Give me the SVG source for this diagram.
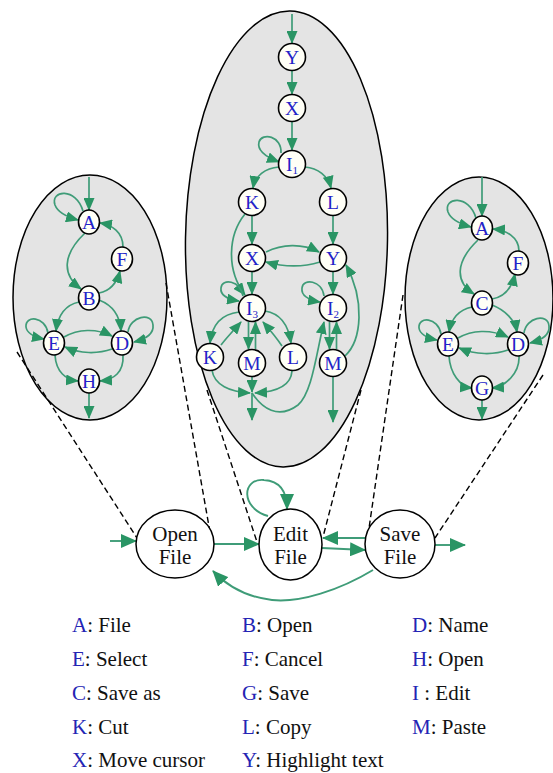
<svg xmlns="http://www.w3.org/2000/svg" width="553" height="773" viewBox="0 0 553 773">
  <style>
    .cluster { fill: #e4e4e4; stroke: #000; stroke-width: 1.5; }
    .node ellipse { fill: #fffff6; stroke: #000; stroke-width: 1.6; }
    .node text { font-family: "Liberation Serif", "Times New Roman", serif; font-size: 19.5px; fill: #2323c8; text-anchor: middle; }
    .big ellipse { fill: #fff; stroke: #000; stroke-width: 1.5; }
    .big text { font-family: "Liberation Serif", "Times New Roman", serif; font-size: 21px; fill: #111; text-anchor: middle; }
    .e { fill: none; stroke: #3f9c78; stroke-width: 1.7; marker-end: url(#ah); }
    .eb { fill: none; stroke: #3f9c78; stroke-width: 1.9; marker-end: url(#ahb); }
    .dash { fill: none; stroke: #000; stroke-width: 1.4; stroke-dasharray: 6 3.5; }
    .legend { font-family: "Liberation Serif", "Times New Roman", serif; font-size: 21px; fill: #111; }
    .legend tspan.k { fill: #2424b4; }
    .sub { font-size: 11px; }
  </style>
  <defs>
    <marker id="ah" viewBox="0 0 13 11" refX="12" refY="5.5" markerWidth="13" markerHeight="11" markerUnits="userSpaceOnUse" orient="auto">
      <path d="M0,0 L13,5.5 L0,11 z" fill="#2a9565"/>
    </marker>
    <marker id="ahb" viewBox="0 0 16 14" refX="15" refY="7" markerWidth="16" markerHeight="14" markerUnits="userSpaceOnUse" orient="auto">
      <path d="M0,0 L16,7 L0,14 z" fill="#2a9565"/>
    </marker>
  </defs>

  <!-- sub-state clusters -->
  <g id="cluster-open">
    <ellipse class="cluster" cx="90" cy="297.5" rx="77" ry="122.5"/>
  </g>
  <g id="cluster-edit">
    <ellipse class="cluster" cx="286.5" cy="239" rx="101" ry="228" transform="rotate(0.9 286.5 239)"/>
  </g>
  <g id="cluster-save">
    <ellipse class="cluster" cx="479" cy="298.5" rx="74" ry="121.5"/>
  </g>

  <!-- zoom guides -->
  <g id="guides">
    <path class="dash" d="M17 352 L137 538"/>
    <path class="dash" d="M166 283 L210 532"/>
    <path class="dash" d="M207 390 L257 542"/>
    <path class="dash" d="M361 390 L323 537"/>
    <path class="dash" d="M403 295 L367 542"/>
    <path class="dash" d="M543 375 L435 538"/>
  </g>

  <!-- connectors -->
  <g id="connectors">
    <!-- Open File cluster -->
    <path class="e" d="M89 177 L89 210"/>
    <path class="e" d="M83 211 C76 187 50 190 55 205 C58 213 67 217 78 220"/>
    <path class="e" d="M85 233 C62 255 62 275 81 289"/>
    <path class="e" d="M99 293 Q115 290 120 271"/>
    <path class="e" d="M123 247 C123 232 112 225 100 223"/>
    <path class="e" d="M79 302 C65 305 58 315 56 331"/>
    <path class="e" d="M99 300 C112 305 120 315 121 331"/>
    <path class="e" d="M48 333 C45 316 25 315 26 327 C27 334 34 337 44 339"/>
    <path class="e" d="M128 332 C130 316 152 312 153 325 C154 334 146 339 134 342"/>
    <path class="e" d="M64 337 C78 329 96 328 112 336"/>
    <path class="e" d="M112 349 C98 354 80 354 65 347"/>
    <path class="e" d="M55 355 C56 372 66 380 78 381"/>
    <path class="e" d="M123 355 C124 372 114 380 100 381"/>
    <path class="e" d="M89 393 L89 418"/>

    <!-- Edit File cluster -->
    <path class="e" d="M292 14 L292 43"/>
    <path class="e" d="M292 71 L292 94"/>
    <path class="e" d="M292 122 L292 150"/>
    <path class="e" d="M281 153 C282 136 262 132 259 142 C257 150 266 157 279 162"/>
    <path class="e" d="M279 167 C265 168 255 176 253 188"/>
    <path class="e" d="M305 167 C318 168 328 176 331 188"/>
    <path class="e" d="M252 216 L252 244"/>
    <path class="e" d="M333 216 L333 244"/>
    <path class="e" d="M266 252 C282 244 302 243 319 252"/>
    <path class="e" d="M320 262 C304 267 284 267 266 262"/>
    <path class="e" d="M245 214 C228 235 226 270 245 295"/>
    <path class="e" d="M252 272 L252 294"/>
    <path class="e" d="M243 296 C240 280 222 278 221 288 C220 295 227 299 239 301"/>
    <path class="e" d="M333 272 L333 294"/>
    <path class="e" d="M324 296 C322 280 303 278 302 288 C301 295 308 300 320 302"/>
    <path class="e" d="M239 312 C222 314 212 324 210 343"/>
    <path class="e" d="M221 345 C228 336 234 330 241 322"/>
    <path class="e" d="M248.5 322 L248.5 349"/>
    <path class="e" d="M255.5 349 L255.5 322"/>
    <path class="e" d="M265 311 C278 313 288 322 291 343"/>
    <path class="e" d="M282 346 C276 337 270 330 263 322"/>
    <path class="e" d="M212 370 C214 385 230 392 250 393"/>
    <path class="e" d="M252 377 L252 392"/>
    <path class="e" d="M292 371 C291 386 276 392 255 393"/>
    <path class="e" d="M252 393 L252 420"/>
    <path class="e" d="M252 393 C262 408 278 420 298 405 C312 393 316 355 324 322"/>
    <path class="e" d="M329.5 322 L329.5 349"/>
    <path class="e" d="M336.5 349 L336.5 322"/>
    <path class="e" d="M345 356 C362 340 365 300 346 265"/>
    <path class="e" d="M333 377 L333 422"/>

    <!-- Save File cluster -->
    <path class="e" d="M482 177 L482 216"/>
    <path class="e" d="M476 218 C469 194 443 197 448 212 C451 220 460 224 471 227"/>
    <path class="e" d="M478 240 C455 262 455 282 474 294"/>
    <path class="e" d="M492 299 Q510 296 515 274"/>
    <path class="e" d="M519 251 C519 237 506 230 493 229"/>
    <path class="e" d="M472 307 C458 310 451 320 449 332"/>
    <path class="e" d="M492 305 C505 310 515 320 517 332"/>
    <path class="e" d="M441 334 C438 317 418 316 419 328 C420 335 427 338 437 340"/>
    <path class="e" d="M524 333 C526 317 548 313 549 326 C550 335 542 340 530 343"/>
    <path class="e" d="M458 338 C472 330 490 329 508 337"/>
    <path class="e" d="M508 350 C494 355 476 355 459 348"/>
    <path class="e" d="M449 356 C450 373 460 387 472 388"/>
    <path class="e" d="M519 356 C520 373 505 387 492 388"/>
    <path class="e" d="M482 400 L482 419"/>

    <!-- top-level machine -->
    <path class="eb" d="M110 541 L136 541"/>
    <path class="eb" d="M214 544 L259 544"/>
    <path class="eb" d="M268 516 C240 508 242 478 264 480 C280 481 287 492 287 509"/>
    <path class="eb" d="M365 538 L323 538"/>
    <path class="eb" d="M322 548 L365 550"/>
    <path class="eb" d="M435 545 L465 545"/>
    <path class="eb" d="M373 570 C340 590 300 603 272 600 C247 597 227 586 213 571"/>
  </g>

  <!-- Open File cluster nodes -->
  <g id="o-A" class="node"><ellipse cx="89" cy="222" rx="10.5" ry="12"/><text x="89" y="228.5">A</text></g>
  <g id="o-F" class="node"><ellipse cx="122" cy="259" rx="10.5" ry="12"/><text x="122" y="265.5">F</text></g>
  <g id="o-B" class="node"><ellipse cx="89" cy="298" rx="10.5" ry="12"/><text x="89" y="304.5">B</text></g>
  <g id="o-E" class="node"><ellipse cx="54" cy="343" rx="10.5" ry="12"/><text x="54" y="349.5">E</text></g>
  <g id="o-D" class="node"><ellipse cx="122" cy="343" rx="10.5" ry="12"/><text x="122" y="349.5">D</text></g>
  <g id="o-H" class="node"><ellipse cx="89" cy="381" rx="10.5" ry="12"/><text x="89" y="387.5">H</text></g>

  <!-- Edit File cluster nodes -->
  <g id="e-Y1" class="node"><ellipse cx="292" cy="57" rx="13.5" ry="13.5"/><text x="292" y="64">Y</text></g>
  <g id="e-X1" class="node"><ellipse cx="292" cy="108" rx="13.5" ry="13.5"/><text x="292" y="115">X</text></g>
  <g id="e-I1" class="node"><ellipse cx="292" cy="164" rx="13.5" ry="13.5"/><text x="292" y="171">I<tspan class="sub" dy="3">1</tspan></text></g>
  <g id="e-K1" class="node"><ellipse cx="252" cy="202" rx="13.5" ry="13.5"/><text x="252" y="209">K</text></g>
  <g id="e-L1" class="node"><ellipse cx="333" cy="202" rx="13.5" ry="13.5"/><text x="333" y="209">L</text></g>
  <g id="e-X2" class="node"><ellipse cx="252" cy="258" rx="13.5" ry="13.5"/><text x="252" y="265">X</text></g>
  <g id="e-Y2" class="node"><ellipse cx="333" cy="258" rx="13.5" ry="13.5"/><text x="333" y="265">Y</text></g>
  <g id="e-I3" class="node"><ellipse cx="252" cy="308" rx="13.5" ry="13.5"/><text x="252" y="315">I<tspan class="sub" dy="3">3</tspan></text></g>
  <g id="e-I2" class="node"><ellipse cx="333" cy="308" rx="13.5" ry="13.5"/><text x="333" y="315">I<tspan class="sub" dy="3">2</tspan></text></g>
  <g id="e-K2" class="node"><ellipse cx="210" cy="357" rx="13.5" ry="13.5"/><text x="210" y="364">K</text></g>
  <g id="e-M1" class="node"><ellipse cx="252" cy="363" rx="13.5" ry="13.5"/><text x="252" y="370">M</text></g>
  <g id="e-L2" class="node"><ellipse cx="293" cy="357" rx="13.5" ry="13.5"/><text x="293" y="364">L</text></g>
  <g id="e-M2" class="node"><ellipse cx="333" cy="363" rx="13.5" ry="13.5"/><text x="333" y="370">M</text></g>

  <!-- Save File cluster nodes -->
  <g id="s-A" class="node"><ellipse cx="482" cy="228" rx="10.5" ry="12"/><text x="482" y="234.5">A</text></g>
  <g id="s-F" class="node"><ellipse cx="518" cy="263" rx="10.5" ry="12"/><text x="518" y="269.5">F</text></g>
  <g id="s-C" class="node"><ellipse cx="482" cy="303" rx="10.5" ry="12"/><text x="482" y="309.5">C</text></g>
  <g id="s-E" class="node"><ellipse cx="448" cy="344" rx="10.5" ry="12"/><text x="448" y="350.5">E</text></g>
  <g id="s-D" class="node"><ellipse cx="518" cy="344" rx="10.5" ry="12"/><text x="518" y="350.5">D</text></g>
  <g id="s-G" class="node"><ellipse cx="482" cy="388" rx="10.5" ry="12"/><text x="482" y="394.5">G</text></g>

  <!-- top-level states -->
  <g id="open-file" class="big"><ellipse cx="175" cy="544" rx="39" ry="34"/><text x="175" y="541">Open</text><text x="175" y="564">File</text></g>
  <g id="edit-file" class="big"><ellipse cx="290.5" cy="544.5" rx="31.5" ry="35.5"/><text x="290.5" y="541">Edit</text><text x="290.5" y="564">File</text></g>
  <g id="save-file" class="big"><ellipse cx="400" cy="544" rx="35" ry="34"/><text x="400" y="541">Save</text><text x="400" y="564">File</text></g>

  <!-- legend -->
  <g id="legend" class="legend">
    <text x="72" y="632"><tspan class="k">A</tspan>: File</text>
    <text x="242" y="632"><tspan class="k">B</tspan>: Open</text>
    <text x="412" y="632"><tspan class="k">D</tspan>: Name</text>
    <text x="72" y="666"><tspan class="k">E</tspan>: Select</text>
    <text x="242" y="666"><tspan class="k">F</tspan>: Cancel</text>
    <text x="412" y="666"><tspan class="k">H</tspan>: Open</text>
    <text x="72" y="700"><tspan class="k">C</tspan>: Save as</text>
    <text x="242" y="700"><tspan class="k">G</tspan>: Save</text>
    <text x="412" y="700"><tspan class="k">I</tspan> : Edit</text>
    <text x="72" y="734"><tspan class="k">K</tspan>: Cut</text>
    <text x="242" y="734"><tspan class="k">L</tspan>: Copy</text>
    <text x="412" y="734"><tspan class="k">M</tspan>: Paste</text>
    <text x="72" y="767"><tspan class="k">X</tspan>: Move cursor</text>
    <text x="242" y="767"><tspan class="k">Y</tspan>: Highlight text</text>
  </g>
</svg>
